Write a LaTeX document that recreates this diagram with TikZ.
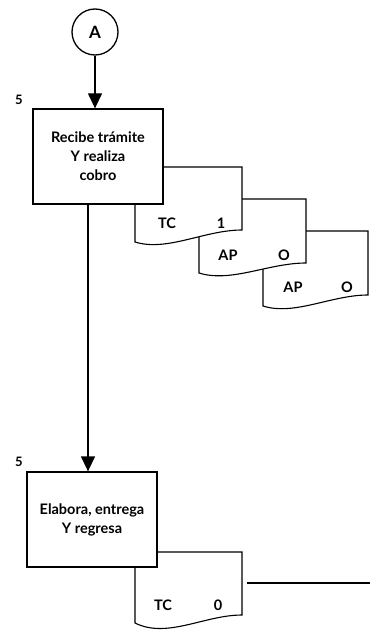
\documentclass[tikz,border=0pt]{standalone}
\usepackage{fontspec}
\setmainfont{Lato}
\usetikzlibrary{arrows.meta}
\begin{document}
\begin{tikzpicture}[x=1bp,y=-1bp,line width=1.1bp,
  every node/.style={font=\fontsize{14.5bp}{19bp}\selectfont\bfseries},
  procbox/.style={draw,line width=1.3bp,fill=white,minimum width=130bp,minimum height=95bp,align=center,inner sep=0pt},
  connector/.style={draw,line width=1.3bp,circle,minimum size=46bp,inner sep=0pt,font=\fontsize{17bp}{18bp}\selectfont\bfseries},
  flow/.style={line width=1.3bp,-{Triangle[width=14bp,length=15bp]}},
  docshape/.style={draw,fill=white},
  steplabel/.style={font=\fontsize{13bp}{14bp}\selectfont\bfseries}]
\useasboundingbox (0,0) rectangle (370,630);

% document symbol: left, top, right, bottom-left y, bottom-right y, dip
\newcommand{\docsym}[6]{%
  \path[docshape] (#1,#2) -- (#3,#2) -- (#3,#5)
    .. controls ({#3-0.35*(#3-#1)},{#5}) and ({#1+0.3*(#3-#1)},{#4+#6}) .. (#1,#4) -- cycle;}

% connector and first step
\node[connector] (A) at (95,32) {A};
\docsym{263}{231}{368}{306}{295}{10}
\docsym{199}{199}{306}{273}{263}{10}
\docsym{135}{167}{242}{242}{230}{10}
\node at (167,223) {TC};
\node at (221,223) {1};
\node at (228,255) {AP};
\node at (284,255) {O};
\node at (293,287) {AP};
\node at (347,287) {O};
\node[procbox] (b1) at (98,156.5) {Recibe trámite\\Y realiza\\cobro};
\node[steplabel] (n1) at (19,100) {5};
\draw[flow] (A) -- (b1.north -| A);

% second step
\docsym{135}{552}{242}{623}{615}{16}
\node[procbox] (b2) at (92,519.5) {Elabora, entrega\\Y regresa};
\node[steplabel] (n2) at (19,462) {5};
\node at (163,605) {TC};
\node at (218,605) {0};
\draw[flow] (b1.south -| 88,0) -- (b2.north -| 88,0);
\coordinate (out0) at (247,583);
\coordinate (out1) at (370,583);
\draw (out0) -- (out1);
\end{tikzpicture}
\end{document}
